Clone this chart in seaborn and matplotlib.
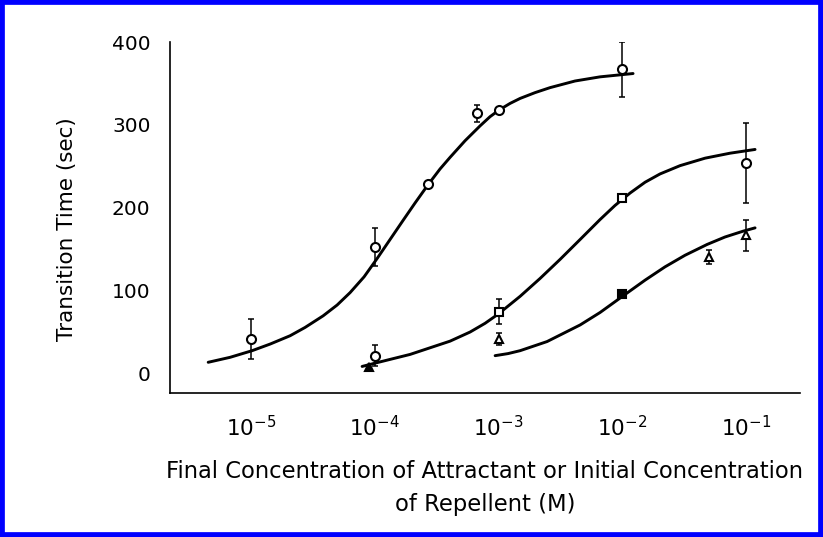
import matplotlib
matplotlib.use("Agg")
import matplotlib.pyplot as plt
import seaborn as sns
import numpy as np
import pandas as pd
from matplotlib.patches import Rectangle
from matplotlib.ticker import FixedLocator, NullLocator

# ---------------- data ----------------
# fitted curves: log10 of concentration (M) and transition time (s)
curve1_log_conc = [-5.347, -5.170, -4.992, -4.846, -4.685, -4.564, -4.418, -4.305,
                   -4.200, -4.087, -3.982, -3.877, -3.772, -3.675, -3.570, -3.473,
                   -3.392, -3.271, -3.149, -3.069, -2.996, -2.907, -2.826, -2.705,
                   -2.584, -2.382, -2.180, -1.913]
curve1_time = [14, 20, 28, 36, 46, 56, 70, 83, 98, 117, 139, 162, 185, 206, 228, 247,
               261, 281, 299, 310, 318, 326, 332, 339, 345, 353, 358, 362]

curve2_log_conc = [-4.103, -3.998, -3.715, -3.392, -3.230, -3.109, -3.004, -2.826,
                   -2.665, -2.503, -2.341, -2.180, -2.059, -1.937, -1.816, -1.695,
                   -1.533, -1.331, -1.129, -0.927]
curve2_time = [9, 13, 23.5, 39.5, 50.5, 61, 72, 93.5, 115, 138, 162, 186, 203, 218,
               231, 241, 251, 260, 266, 270.5]

curve3_log_conc = [-3.028, -2.923, -2.826, -2.608, -2.341, -2.180, -1.994, -1.816,
                   -1.655, -1.493, -1.315, -1.170, -1.024, -0.927]
curve3_time = [22, 24.5, 28, 39, 59, 74, 94, 113, 129, 143, 156, 165, 172, 176]

# measured points with error bars
s1_conc = [1e-5, 1e-4, 2.7e-4, 6.7e-4, 1e-3, 1e-2]
s1_time = [42, 153, 229, 314, 318, 367]
s1_err = [24, 23, 0, 10, 0, 33]
s1_markers = ['o', 'o', 'o', 'o', 'o', 'o']

s2_conc = [1e-4, 1e-3, 1e-2, 1e-1]
s2_time = [22, 75, 212, 254]
s2_err = [13, 15, 0, 48]
s2_markers = ['o', 's', 's', 'o']

s3_conc = [9e-5, 1e-3, 1e-2, 5e-2, 1e-1]
s3_time = [8, 42, 96, 141, 167]
s3_err = [0, 7, 0, 8, 19]
s3_markers = ['^', '^', 's', '^', '^']
s3_filled = [True, False, True, False, False]

x_ticks = [1e-5, 1e-4, 1e-3, 1e-2, 1e-1]
x_tick_labels = ['$10^{-5}$', '$10^{-4}$', '$10^{-3}$', '$10^{-2}$', '$10^{-1}$']
y_ticks = [0, 100, 200, 300, 400]
y_tick_labels = ['0', '100', '200', '300', '400']

x_label = "Final Concentration of Attractant or Initial Concentration\nof Repellent (M)"
y_label = "Transition Time (sec)"

# ---------------- drawing ----------------
sns.set_theme(style="white")
plt.rcParams['font.family'] = ['DejaVu Sans']
plt.rcParams['mathtext.default'] = 'regular'

fig = plt.figure(figsize=(8.23, 5.37), dpi=100)
ax = fig.add_axes([170/823, 1 - 393/537, (800-170)/823, (393-42)/537])
ax.set_xscale('log')

curves = pd.concat([
    pd.DataFrame({'conc': np.power(10.0, curve1_log_conc), 'time': curve1_time, 'curve': 'c1'}),
    pd.DataFrame({'conc': np.power(10.0, curve2_log_conc), 'time': curve2_time, 'curve': 'c2'}),
    pd.DataFrame({'conc': np.power(10.0, curve3_log_conc), 'time': curve3_time, 'curve': 'c3'}),
])
sns.lineplot(data=curves, x='conc', y='time', units='curve', estimator=None,
             color='black', lw=2.1, sort=False, ax=ax, legend=False)
for ln in ax.lines:
    ln.set_solid_joinstyle('round')
    ln.set_solid_capstyle('round')

def draw_points(conc, time, err, markers, filled=None):
    for i, (c, t, e, m) in enumerate(zip(conc, time, err, markers)):
        if e > 0:
            ax.errorbar([c], [t], yerr=[e], fmt='none', ecolor='black',
                        elinewidth=1.1, capsize=2.0, capthick=1.1, zorder=3)
        f = filled[i] if filled is not None else False
        size = 6.5 if m == 'o' else 5.5
        ax.plot([c], [t], marker=m, ms=size, mfc='black' if f else 'white',
                mec='black', mew=1.5, ls='none', zorder=4)

draw_points(s1_conc, s1_time, s1_err, s1_markers)
draw_points(s2_conc, s2_time, s2_err, s2_markers)
draw_points(s3_conc, s3_time, s3_err, s3_markers, s3_filled)

ax.set_xlim(2.21e-6, 0.273)
ax.set_ylim(-23, 400)
ax.xaxis.set_major_locator(FixedLocator(x_ticks))
ax.xaxis.set_minor_locator(NullLocator())
ax.set_xticklabels(x_tick_labels)
ax.set_yticks(y_ticks)
ax.set_yticklabels(y_tick_labels)

for side in ['top', 'right']:
    ax.spines[side].set_visible(False)
for side in ['left', 'bottom']:
    ax.spines[side].set_color('black')
    ax.spines[side].set_linewidth(1.2)

ax.tick_params(axis='both', direction='in', length=5, width=1.2, colors='black',
               labelsize=14.5)
ax.tick_params(axis='x', pad=16, labelsize=15.5)
ax.tick_params(axis='y', pad=14)

ax.set_xlabel(x_label, fontsize=16.3, linespacing=1.55, color='black')
ax.set_ylabel(y_label, fontsize=15.5, color='black')
ax.xaxis.set_label_coords(0.50, -0.19)
ax.yaxis.set_label_coords(-0.148, 0.467)
ax.grid(False)

# blue frame around the scanned picture
fig.patches.append(Rectangle((0, 0), 1, 1, transform=fig.transFigure, fill=False,
                             edgecolor='#0000ff', linewidth=7, zorder=10))

fig.savefig('out.png', dpi=100, facecolor='white')
